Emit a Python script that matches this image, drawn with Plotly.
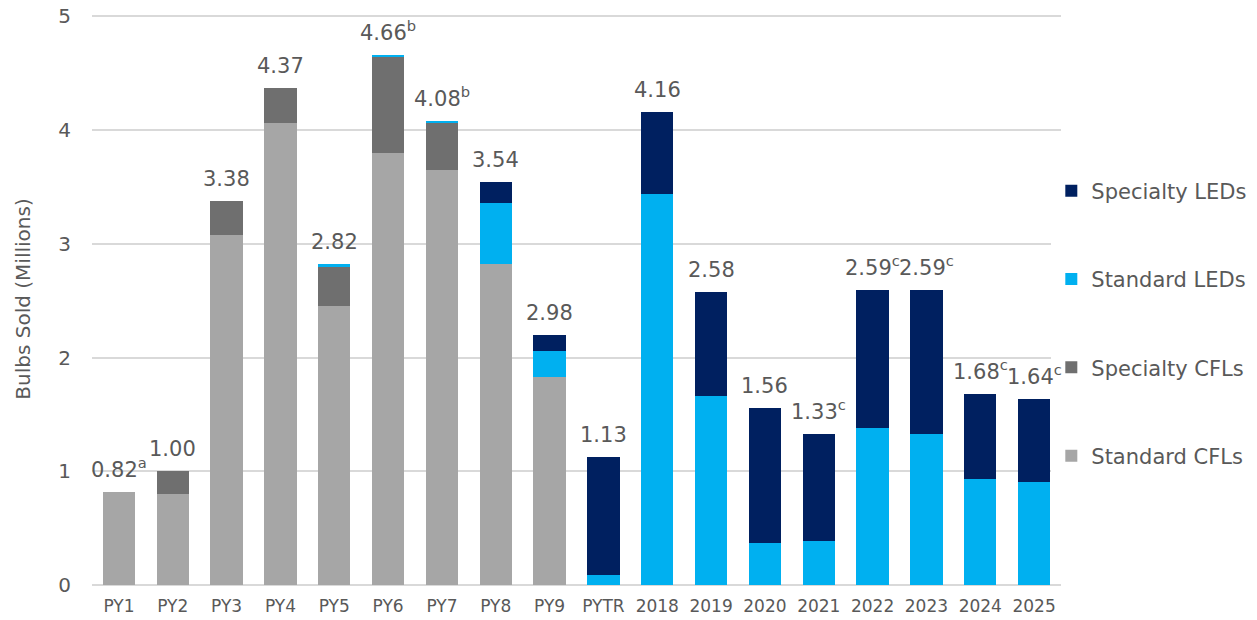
import plotly.graph_objects as go

categories = ["PY1", "PY2", "PY3", "PY4", "PY5", "PY6", "PY7", "PY8", "PY9", "PYTR",
              "2018", "2019", "2020", "2021", "2022", "2023", "2024", "2025"]

standard_cfls = [0.82, 0.80, 3.08, 4.06, 2.45, 3.80, 3.65, 2.82, 1.83, 0, 0, 0, 0, 0, 0, 0, 0, 0]
specialty_cfls = [0, 0.20, 0.30, 0.31, 0.35, 0.84, 0.41, 0, 0, 0, 0, 0, 0, 0, 0, 0, 0, 0]
standard_leds = [0, 0, 0, 0, 0.02, 0.02, 0.02, 0.54, 0.23, 0.09, 3.44, 1.66, 0.37, 0.39, 1.38, 1.33, 0.93, 0.91]
specialty_leds = [0, 0, 0, 0, 0, 0, 0, 0.18, 0.14, 1.04, 0.72, 0.92, 1.19, 0.94, 1.21, 1.26, 0.75, 0.73]

total_labels = ["0.82<sup>a</sup>", "1.00", "3.38", "4.37", "2.82", "4.66<sup>b</sup>",
                "4.08<sup>b</sup>", "3.54", "2.98", "1.13", "4.16", "2.58", "1.56",
                "1.33<sup>c</sup>", "2.59<sup>c</sup>", "2.59<sup>c</sup>",
                "1.68<sup>c</sup>", "1.64<sup>c</sup>"]

series = [
    ("Standard CFLs", standard_cfls, "#A6A6A6"),
    ("Specialty CFLs", specialty_cfls, "#6F6F6F"),
    ("Standard LEDs", standard_leds, "#00B0F0"),
    ("Specialty LEDs", specialty_leds, "#002060"),
]

FONT = "DejaVu Sans"
TXT = "#595959"

fig = go.Figure()
for i, (name, vals, color) in enumerate(series):
    fig.add_trace(go.Bar(
        x=categories, y=vals, name=name, marker_color=color,
        marker_line_width=0, legendgroup=str(i), legendrank=10 - i,
    ))

totals = [sum(v) for v in zip(standard_cfls, specialty_cfls, standard_leds, specialty_leds)]
for idx, (tot, lab) in enumerate(zip(totals, total_labels)):
    fig.add_annotation(x=idx, xref="x", y=tot, text=lab, showarrow=False, yanchor="bottom",
                       yshift=8, font=dict(family=FONT, size=21, color=TXT))

fig.update_layout(
    barmode="stack",
    bargap=0.40,
    width=1257, height=620,
    margin=dict(l=84, r=204, t=5, b=43),
    plot_bgcolor="white", paper_bgcolor="white",
    font=dict(family=FONT, color=TXT),
    legend=dict(
        x=0.99, xanchor="left", y=0.457, yanchor="middle",
        traceorder="grouped", tracegroupgap=58,
        font=dict(family=FONT, size=21, color=TXT),
        itemwidth=30,
    ),
    xaxis=dict(type="category", categoryorder="array", categoryarray=categories,
               range=[-0.5, len(categories) - 0.5], automargin=False,
               showgrid=False, showline=False,
               tickfont=dict(size=17, color=TXT), ticklabelstandoff=9),
    yaxis=dict(range=[0, 5.03], tickvals=[0, 1, 2, 3, 4, 5], showgrid=True,
               automargin=False, ticklabeloverflow="allow",
               gridcolor="#D9D9D9", gridwidth=1.5,
               zeroline=True, zerolinecolor="#D9D9D9", zerolinewidth=1.5,
               tickfont=dict(size=20, color=TXT), ticklabelstandoff=20,
               title=dict(text="Bulbs Sold (Millions)", font=dict(size=20, color=TXT),
                          standoff=22)),
)

fig.write_html("out.html")
